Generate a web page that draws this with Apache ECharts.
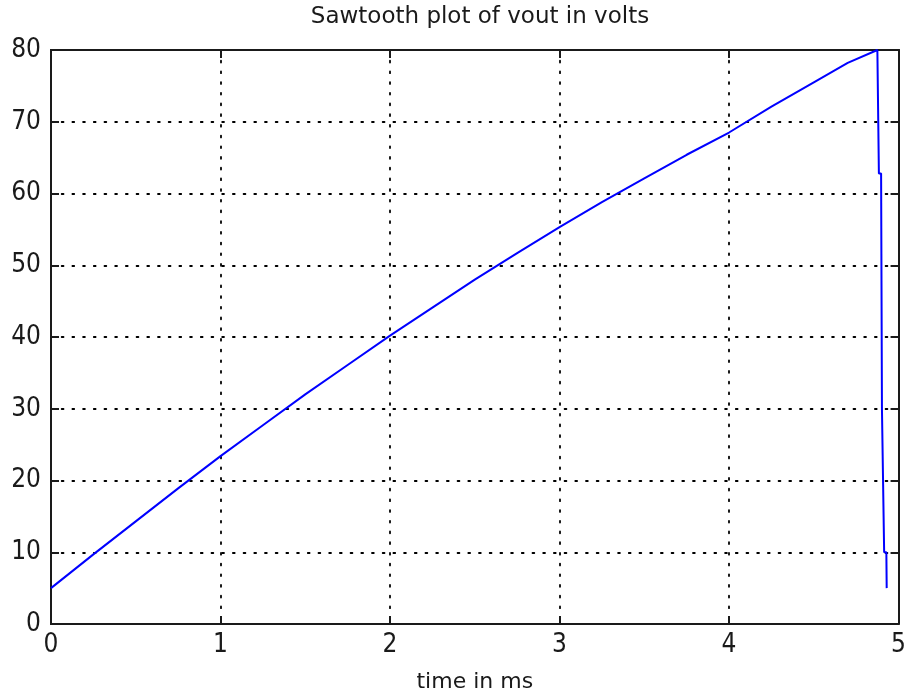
<!DOCTYPE html>
<html>
<head>
<meta charset="utf-8">
<title>Sawtooth plot of vout in volts</title>
<script src="https://cdn.jsdelivr.net/npm/echarts@6/dist/echarts.min.js"></script>
<style>
  html, body { margin: 0; padding: 0; background: #fff; overflow: hidden; }
  #chart { width: 909px; height: 698px; }
</style>
</head>
<body>
<div id="chart"></div>
<script>
// Capacitor voltage: charging ramp followed by the fast discharge
const timeMs = [0, 0.25, 0.5, 0.75, 1, 1.25, 1.5, 1.75, 2, 2.25, 2.5, 2.75, 3, 3.25, 3.5, 3.75, 4, 4.25, 4.5, 4.7, 4.875,
                4.878, 4.884, 4.897, 4.902, 4.912, 4.915, 4.928, 4.93];
const voutVolts = [5, 9.7, 14.3, 18.9, 23.4, 27.7, 32.0, 36.1, 40.2, 44.1, 48.0, 51.7, 55.3, 58.8, 62.1, 65.4, 68.5, 72.1, 75.5, 78.2, 80,
                   80, 62.8, 62.8, 30, 30, 10, 10, 5];

const xTicks = [0, 1, 2, 3, 4, 5];
const yTicks = [0, 10, 20, 30, 40, 50, 60, 70, 80];

const points = timeMs.map((t, i) => [t, voutVolts[i]]);

const tickFont = "'DejaVu Sans Condensed', 'Liberation Sans Narrow', 'DejaVu Sans', sans-serif";
const textFont = "'DejaVu Sans', sans-serif";
const ink = '#1a1a1a';

const dotted = { color: '#000', width: 1.8, type: [1.8, 8.9], cap: 'round' };

function xAxisCfg(pos, labels) {
  return {
    type: 'value', position: pos,
    min: xTicks[0], max: xTicks[xTicks.length - 1], interval: 1,
    axisLine: { show: true, onZero: false, lineStyle: { color: ink, width: 2 } },
    axisTick: { show: true, inside: true, length: 8, lineStyle: { color: ink, width: 2 } },
    axisLabel: labels ? { show: true, color: ink, fontFamily: tickFont, fontSize: 26, margin: 8 } : { show: false },
    splitLine: { show: labels, lineStyle: dotted },
    name: labels ? 'time in ms' : '',
    nameLocation: 'middle', nameGap: 47,
    nameTextStyle: { color: ink, fontFamily: textFont, fontSize: 22 }
  };
}

function yAxisCfg(pos, labels) {
  return {
    type: 'value', position: pos,
    min: yTicks[0], max: yTicks[yTicks.length - 1], interval: 10,
    axisLine: { show: true, onZero: false, lineStyle: { color: ink, width: 2 } },
    axisTick: { show: true, inside: true, length: 8, lineStyle: { color: ink, width: 2 } },
    axisLabel: labels ? { show: true, color: ink, fontFamily: tickFont, fontSize: 26, margin: 10 } : { show: false },
    splitLine: { show: labels, lineStyle: dotted }
  };
}

const chart = echarts.init(document.getElementById('chart'), null, { renderer: 'canvas' });
chart.setOption({
  animation: false,
  backgroundColor: '#fff',
  title: {
    text: 'Sawtooth plot of vout in volts',
    left: 475, top: 1, textAlign: 'center',
    textStyle: { color: ink, fontFamily: textFont, fontSize: 23, fontWeight: 'normal' }
  },
  grid: { left: 51, right: 4, top: 50, bottom: 66, containLabel: false },
  xAxis: [xAxisCfg('bottom', true), xAxisCfg('top', false)],
  yAxis: [yAxisCfg('left', true), yAxisCfg('right', false)],
  series: [{
    type: 'line',
    data: points,
    xAxisIndex: 0, yAxisIndex: 0,
    showSymbol: false,
    lineStyle: { color: '#0000ff', width: 2 },
    z: 3
  }]
});
</script>
</body>
</html>
